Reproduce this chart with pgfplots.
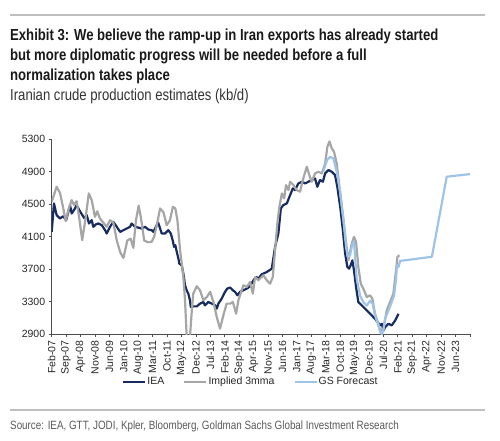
\documentclass[border=0pt]{standalone}
\usepackage{pgfplots}
\pgfplotsset{compat=1.18}
\usepackage{fontspec}
\setmainfont{Liberation Sans}
\newfontfamily\narrow[FakeStretch=0.82]{Liberation Sans}
\definecolor{ieanavy}{HTML}{172B5F}
\definecolor{impgrey}{HTML}{A6A6A6}
\definecolor{gsblue}{HTML}{9DC3E6}
\definecolor{rulegrey}{HTML}{BFBFBF}

\pgfplotstableread{
m v
0 4157
1.1 4507
2.4 4363
4.0 4322
5.6 4350
7.0 4300
8.1 4404
8.9 4486
9.7 4383
11.3 4445
12.1 4486
13.5 4420
15.8 4326
17 4363
18.1 4260
19.4 4301
20.2 4219
21.5 4250
22.6 4260
24.3 4240
25.9 4178
26.7 4137
28.3 4219
29.9 4280
31.6 4219
33.2 4157
34.8 4178
36.4 4198
38 4219
38.8 4260
40.4 4219
42 4210
43.7 4198
45.3 4219
46.9 4186
48.5 4178
49.3 4157
51 4240
51.7 4268
53.4 4137
55 4137
56.6 4178
57.8 4137
58.7 4055
59.4 3972
60 3993
60.7 3910
61.5 3829
61.9 3767
63.1 3746
63.9 3644
64.7 3500
65.5 3438
66.3 3397
67.1 3315
67.5 3232
68.7 3240
70.4 3240
72 3274
73.6 3294
74.4 3253
76 3294
77.7 3274
79.3 3253
80.1 3212
80.9 3274
82.5 3336
84.1 3418
85.2 3459
86.6 3472
87.9 3438
89 3418
90.1 3377
91.4 3418
93 3438
94.7 3459
96.3 3488
97.9 3562
99.2 3603
100.3 3582
101.9 3634
104.4 3663
106.8 3704
108.4 3972
110 4137
111.2 4445
112.4 4486
114.1 4507
115.7 4610
117 4692
118.1 4671
119.7 4753
121.4 4774
123 4753
124.6 4774
126.2 4795
127.8 4815
128.9 4712
130.2 4795
131.6 4774
132.7 4877
134.3 4918
135.9 4897
137.5 4856
138.6 4712
140 4466
141.3 4178
142.4 3890
143.5 3725
144.3 3704
145.1 3746
145.9 3807
146.7 3684
147.7 3478
148.8 3293
150.5 3252
152.1 3211
153.7 3170
155.3 3129
156.9 3088
158.5 3034
159.4 3006
160.2 3026
161 2944
161.8 2985
163.4 3026
165 3006
166.7 3067
168.3 3149
}\ieadata

\pgfplotstableread{
m v
0 4527
2.4 4712
4.0 4640
5.6 4450
6.8 4290
8.1 4430
9.7 4548
10.8 4490
12.1 4535
13.4 4320
14.8 4055
16.3 4300
18 4630
19.4 4548
21 4342
22.1 4410
23.4 4322
24.7 4280
26.7 4219
28.3 4300
29.9 4270
31.6 4050
33.2 3910
34.8 3835
36.7 4050
38.3 4075
39.6 3960
40.9 4300
42.2 4480
43.3 4330
44.9 4050
46.7 4030
48.5 4034
49.7 4096
51 4240
52.6 4445
54.2 4400
55.8 4240
57.4 4301
58.8 4466
60 4445
61 4301
62.3 3931
63.9 3603
64.7 3315
65.5 2870
66.3 2860
67.1 2870
68 3191
68.7 3397
70.4 3488
72 3438
73.6 3315
75.3 3356
76.9 3418
78.5 3294
80.1 3109
81.7 2966
83.3 3130
84.9 3274
86.6 3274
87.9 3294
89.5 3150
90.6 3315
93 3500
94.7 3479
96.3 3541
97.6 3397
98.7 3602
100.3 3561
102.7 3622
104.4 3561
106 3519
107.3 3602
108.4 3931
109.5 4260
110.5 4466
111.7 4630
112.8 4569
113.7 4733
114.9 4671
115.7 4774
117.3 4733
118.9 4671
120.5 4651
122.1 4815
123.8 4959
125 4856
126.2 4774
127.8 4877
129.4 4897
131.1 4877
132.7 5000
133.8 5206
134.8 5270
135.9 5185
137 5144
138.3 5000
140 4630
141.6 4301
142.9 4013
144 3808
145.6 4013
146.7 4096
147.7 4034
148.8 3725
150 3519
151.6 3437
152.9 3355
154.5 3376
155.6 3335
156.9 3149
158.5 3026
159.4 2944
161 2965
162.6 3190
164.2 3293
165.8 3396
167.1 3684
167.8 3849
168.7 3870
}\impdata

\pgfplotstableread{
m v
131.8 4900
133.6 5040
135.1 5080
136.7 5060
138.3 4900
140 4650
141.6 4300
142.9 3960
143.7 3850
144.8 3870
145.8 4000
146.7 4040
148 3580
149.7 3370
151.3 3290
152.9 3250
154.5 3310
155.8 3270
156.9 3130
158.5 3007
159.4 2925
160.2 2900
161 2945
161.8 3090
163.4 3190
165 3290
166.2 3380
167.2 3600
167.5 3746
168.3 3726
169.1 3800
184.5 3850
191.7 4836
203 4868
}\gsdata

\begin{document}
\begin{tikzpicture}[x=1pt,y=1pt]
\useasboundingbox (0,0) rectangle (500,440);
\draw[rulegrey, line width=1.5pt] (10,425) -- (485,425);
\draw[rulegrey, line width=1.2pt] (10,30) -- (485,30);
\begin{scope}[every node/.style={anchor=base west, inner sep=0pt, text=black!90}]
\node[font=\narrow\bfseries\fontsize{16}{20}\selectfont] at (10,399.3) {Exhibit 3: We believe the ramp-up in Iran exports has already started};
\node[font=\narrow\bfseries\fontsize{16}{20}\selectfont] at (10,379.3) {but more diplomatic progress will be needed before a full};
\node[font=\narrow\bfseries\fontsize{16}{20}\selectfont] at (10,359.3) {normalization takes place};
\node[font=\narrow\fontsize{16}{20}\selectfont, text=black!80] at (10,339.3) {Iranian crude production estimates (kb/d)};
\node[font=\narrow\fontsize{12}{14}\selectfont, text=black!65] at (10,10.7) {Source: IEA, GTT, JODI, Kpler, Bloomberg, Goldman Sachs Global Investment Research};
\end{scope}
\begin{axis}[
  at={(51.7pt,106pt)}, anchor=south west,
  scale only axis, width=418.3pt, height=195pt,
  xmin=0, xmax=203, ymin=2900, ymax=5300,
  axis x line*=bottom, axis y line*=left,
  axis line style={black!70, line width=0.8pt},
  tick style={black!70, line width=0.8pt},
  tick align=outside, major tick length=3pt,
  ytick={2900,3300,3700,4100,4500,4900,5300},
  xtick={0,7,...,203},
  xticklabels={Feb-07,Sep-07,Apr-08,Nov-08,Jun-09,Jan-10,Aug-10,Mar-11,Oct-11,May-12,Dec-12,Jul-13,Feb-14,Sep-14,Apr-15,Nov-15,Jun-16,Jan-17,Aug-17,Mar-18,Oct-18,May-19,Dec-19,Jul-20,Feb-21,Sep-21,Apr-22,Nov-22,Jun-23,{}},
  xticklabel style={rotate=90, anchor=east, font=\fontsize{10.5}{12}\selectfont, text=black!85},
  yticklabel style={font=\fontsize{10.5}{12}\selectfont, text=black!85},
  /pgf/number format/.cd, 1000 sep={}, assume math mode=true,
  /pgfplots/.cd,
  legend columns=3,
  legend style={draw=none, fill=none, at={(axis description cs:0.475,-0.245)}, anchor=center,
    font=\fontsize{10.5}{12}\selectfont, text=black!85,
    /tikz/every even column/.append style={column sep=18pt},
    nodes={inner sep=1pt}},
  legend image code/.code={\draw[#1] (0pt,0pt) -- (22pt,0pt);},
  every axis plot/.append style={line width=2.2pt, line join=round},
]
\addplot[ieanavy] table[x=m,y=v] {\ieadata};
\addlegendentry{IEA}
\addplot[impgrey] table[x=m,y=v] {\impdata};
\addlegendentry{Implied 3mma}
\addplot[gsblue] table[x=m,y=v] {\gsdata};
\addlegendentry{GS Forecast}
\end{axis}
\end{tikzpicture}
\end{document}
